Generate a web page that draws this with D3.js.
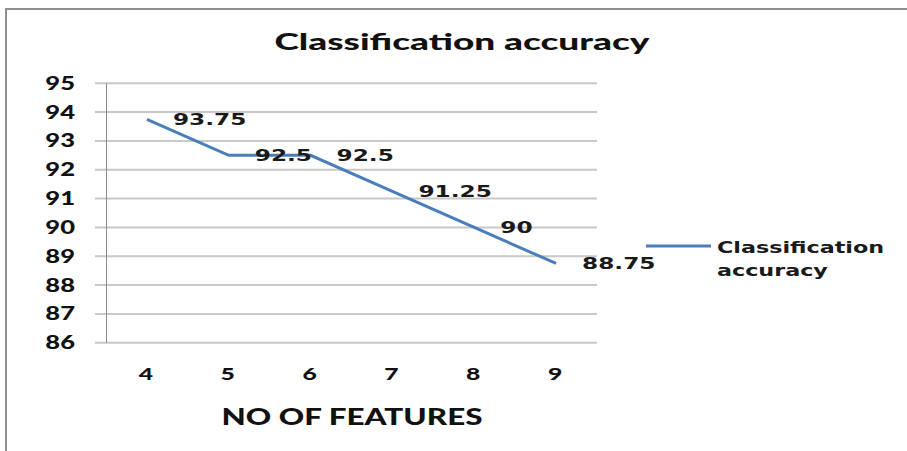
<!DOCTYPE html>
<html>
<head>
<meta charset="utf-8">
<script src="https://cdn.jsdelivr.net/npm/d3@7"></script>
<style>
  body { margin: 0; background: #fff; }
  svg { display: block; }
</style>
</head>
<body>
<svg width="907" height="451"></svg>
<script>
// chart data
const features = [4, 5, 6, 7, 8, 9];
const accuracy = [93.75, 92.5, 92.5, 91.25, 90, 88.75];
const valueLabels = ["93.75", "92.5", "92.5", "91.25", "90", "88.75"];
const yTicks = [86, 87, 88, 89, 90, 91, 92, 93, 94, 95];
const seriesName = ["Classification", "accuracy"];
const chartTitle = "Classification accuracy";
const xTitle = "NO OF FEATURES";

const svg = d3.select("svg");
const plotL = 106, plotR = 597, plotT = 83.3, plotB = 342.7;
const blue = "#4a7ebb";

let x = d3.scalePoint().domain(features).range([plotL, plotR]).padding(0.5);
let y = d3.scaleLinear().domain([86, 95]).range([plotB, plotT]);

// the picture is stretched sideways, so text is widened to match
function stretch(sel, k) {
  sel.each(function () {
    let w = this.getComputedTextLength();
    d3.select(this).attr("textLength", w * k).attr("lengthAdjust", "spacingAndGlyphs");
  });
}

// outer frame (top and left edges visible)
svg.append("path")
  .attr("d", "M6,451 V9 H907")
  .attr("fill", "none")
  .attr("stroke", "#8f8f8f")
  .attr("stroke-width", 2);

// gridlines
svg.append("g")
  .selectAll("line")
  .data(yTicks)
  .join("line")
  .attr("x1", 95).attr("x2", plotR)
  .attr("y1", d => y(d)).attr("y2", d => y(d))
  .attr("stroke", "#c8c8c8")
  .attr("stroke-width", 2);

// y axis line
svg.append("line")
  .attr("x1", plotL + 0.5).attr("x2", plotL + 0.5)
  .attr("y1", plotT).attr("y2", plotB)
  .attr("stroke", "#8a8a8a")
  .attr("stroke-width", 1);

// y tick labels
svg.append("g")
  .selectAll("text")
  .data(yTicks)
  .join("text")
  .attr("x", 75)
  .attr("y", d => y(d))
  .attr("dy", "0.36em")
  .attr("text-anchor", "end")
  .attr("font-family", "Lato")
  .attr("font-weight", "900")
  .attr("font-size", 18)
  .attr("fill", "#111")
  .text(d => d)
  .call(stretch, 1.42);

// x tick labels
svg.append("g")
  .selectAll("text")
  .data(features)
  .join("text")
  .attr("x", d => x(d) - 1)
  .attr("y", 380)
  .attr("text-anchor", "middle")
  .attr("font-family", "Lato")
  .attr("font-weight", "900")
  .attr("font-size", 17)
  .attr("fill", "#111")
  .text(d => d)
  .call(stretch, 1.45);

// line
let pts = features.map((f, i) => [f, accuracy[i]]);
svg.append("path")
  .datum(pts)
  .attr("d", d3.line().x(d => x(d[0])).y(d => y(d[1])))
  .attr("fill", "none")
  .attr("stroke", blue)
  .attr("stroke-width", 3);

// data labels
svg.append("g")
  .selectAll("text")
  .data(pts)
  .join("text")
  .attr("x", d => x(d[0]) + 26)
  .attr("y", d => y(d[1]))
  .attr("dy", "0.36em")
  .attr("font-family", "DejaVu Sans")
  .attr("font-weight", "bold")
  .attr("font-size", 16)
  .attr("fill", "#1a1a1a")
  .text((d, i) => valueLabels[i])
  .call(stretch, 1.45);

// title
svg.append("text")
  .attr("x", 462)
  .attr("y", 50)
  .attr("text-anchor", "middle")
  .attr("font-family", "Lato")
  .attr("font-weight", "900")
  .attr("font-size", 23)
  .attr("fill", "#111")
  .attr("textLength", 375)
  .attr("lengthAdjust", "spacingAndGlyphs")
  .text(chartTitle);

// x axis title
svg.append("text")
  .attr("x", 352)
  .attr("y", 425)
  .attr("text-anchor", "middle")
  .attr("font-family", "Lato")
  .attr("font-weight", "900")
  .attr("font-size", 22)
  .attr("fill", "#111")
  .attr("textLength", 261)
  .attr("lengthAdjust", "spacingAndGlyphs")
  .text(xTitle);

// legend
svg.append("line")
  .attr("x1", 646).attr("x2", 711)
  .attr("y1", 246).attr("y2", 246)
  .attr("stroke", blue)
  .attr("stroke-width", 3);

svg.append("g")
  .selectAll("text")
  .data(seriesName)
  .join("text")
  .attr("x", 717)
  .attr("y", (d, i) => 253 + i * 23)
  .attr("font-family", "DejaVu Sans")
  .attr("font-weight", "bold")
  .attr("font-size", 16)
  .attr("fill", "#1a1a1a")
  .text(d => d)
  .call(stretch, 1.39);
</script>
</body>
</html>
